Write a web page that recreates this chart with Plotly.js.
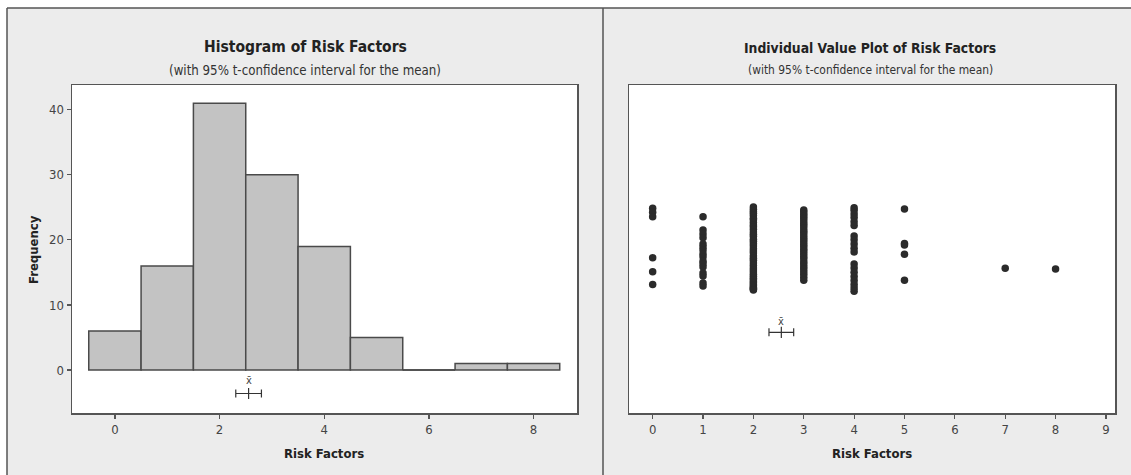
<!DOCTYPE html>
<html>
<head>
<meta charset="utf-8">
<script src="https://cdn.plot.ly/plotly-3.0.1.min.js"></script>
<style>html,body{margin:0;padding:0;background:#fff;}#chart{width:1131px;height:475px;}</style>
</head>
<body>
<div id="chart"></div>
<script>
// ---- data ----
const binCenters = [0, 1, 2, 3, 4, 5, 6, 7, 8];
const binCounts  = [6, 16, 41, 30, 19, 5, 0, 1, 1];
const xTicksLeft  = [0, 2, 4, 6, 8];
const yTicksLeft  = [0, 10, 20, 30, 40];
const xTicksRight = [0, 1, 2, 3, 4, 5, 6, 7, 8, 9];
// vertical jitter (arbitrary 0-100 scale) of individual values, per risk-factor level
const jit0 = [62.4, 61.2, 59.8, 47.3, 43.1, 39.2];
const jit1 = [59.8, 55.8, 54.6, 53.4, 51.5, 50.6, 49.7, 48.5, 47.6, 46.3, 45.4, 44.5, 42.7, 41.8, 39.6, 38.7];
const jit2 = [62.8, 62.1, 61.4, 60.9, 60.2, 59.4, 58.9, 58.1, 57.3, 56.8, 56.0, 55.2, 54.5, 53.9, 53.0, 52.4, 51.6, 50.9, 50.1, 49.4, 48.8, 47.9, 47.2, 46.6, 45.7, 45.0, 44.2, 43.6, 43.0, 42.3, 41.7, 41.1, 40.6, 40.0, 39.6, 39.1, 38.7, 38.3, 38.0, 37.7, 37.5];
const jit3 = [61.9, 61.3, 60.6, 59.9, 59.3, 58.5, 57.8, 57.2, 56.4, 55.6, 55.0, 54.3, 53.5, 52.8, 52.1, 51.4, 50.7, 49.9, 49.2, 48.5, 47.7, 47.0, 46.1, 45.4, 44.6, 43.9, 43.1, 42.3, 41.4, 40.5];
const jit4 = [62.6, 61.8, 60.7, 59.6, 58.3, 57.2, 54.0, 52.8, 51.5, 50.2, 49.1, 45.4, 44.2, 42.9, 41.6, 40.4, 39.2, 38.1, 37.1];
const jit5 = [62.2, 51.7, 51.2, 48.4, 40.5];
const jit7 = [44.1];
const jit8 = [43.9];
const jitterByLevel = {0: jit0, 1: jit1, 2: jit2, 3: jit3, 4: jit4, 5: jit5, 7: jit7, 8: jit8};

// ---- derived statistics ----
let n = 0, s = 0, s2 = 0;
binCenters.forEach((b, i) => { n += binCounts[i]; s += b * binCounts[i]; s2 += b * b * binCounts[i]; });
const mean = s / n;
const sd = Math.sqrt((s2 - n * mean * mean) / (n - 1));
const tcrit = 1.980;
const half = tcrit * sd / Math.sqrt(n);

// ---- styling / placement ----
const W = 1131, H = 475;
const FONT = '"DejaVu Sans Condensed", "Liberation Sans Narrow", "DejaVu Sans", sans-serif';
const dark = '#4a4a4a';
const ciYLeft = -3.6, ciYRight = 24.6;

const ivX = [], ivY = [];
Object.keys(jitterByLevel).forEach(k => {
  jitterByLevel[k].forEach(v => { ivX.push(Number(k)); ivY.push(v); });
});

const zeroX = [], zeroY = [];
binCenters.forEach((b, i) => { if (binCounts[i] === 0) { zeroX.push(b - 0.5, b + 0.5, null); zeroY.push(0, 0, null); } });

const traces = [
  {type: 'bar', x: binCenters, y: binCounts, width: 1, xaxis: 'x', yaxis: 'y',
   marker: {color: '#c3c3c3', line: {color: dark, width: 1.5}}, hoverinfo: 'skip'},
  {type: 'scatter', mode: 'lines', x: zeroX, y: zeroY, xaxis: 'x', yaxis: 'y',
   line: {color: dark, width: 1.5}, hoverinfo: 'skip'},
  {type: 'scatter', mode: 'markers', x: [mean], y: [ciYLeft], xaxis: 'x', yaxis: 'y',
   marker: {symbol: 'line-ns', size: 8, line: {color: '#333', width: 1.2}},
   error_x: {type: 'constant', value: half, color: '#333', thickness: 1.2, width: 4}, hoverinfo: 'skip'},
  {type: 'scatter', mode: 'markers', x: ivX, y: ivY, xaxis: 'x2', yaxis: 'y2',
   marker: {color: '#2b2b2b', size: 7.5}, hoverinfo: 'skip'},
  {type: 'scatter', mode: 'markers', x: [mean], y: [ciYRight], xaxis: 'x2', yaxis: 'y2',
   marker: {symbol: 'line-ns', size: 8, line: {color: '#333', width: 1.2}},
   error_x: {type: 'constant', value: half, color: '#333', thickness: 1.2, width: 4}, hoverinfo: 'skip'}
];

const yDom = [1 - 413 / H, 1 - 85 / H];
const axisCommon = {showline: true, mirror: true, linecolor: '#555', linewidth: 1.5, showgrid: false, zeroline: false,
  ticks: 'outside', ticklen: 4, tickcolor: '#555', tickwidth: 1.2,
  tickfont: {family: FONT, size: 13, color: '#444444'}, automargin: false, fixedrange: true};

const layout = {
  width: W, height: H,
  margin: {l: 0, r: 0, t: 0, b: 0, pad: 0},
  paper_bgcolor: '#ececec', plot_bgcolor: '#ffffff',
  showlegend: false,
  xaxis: Object.assign({}, axisCommon, {domain: [72 / W, 577 / W], range: [-0.82, 8.83], tickvals: xTicksLeft, anchor: 'y'}),
  yaxis: Object.assign({}, axisCommon, {domain: yDom, range: [-6.6, 43.8], tickvals: yTicksLeft, anchor: 'x'}),
  xaxis2: Object.assign({}, axisCommon, {domain: [629 / W, 1115 / W], range: [-0.47, 9.18], tickvals: xTicksRight, anchor: 'y2'}),
  yaxis2: Object.assign({}, axisCommon, {domain: yDom, range: [0, 100], ticks: '', showticklabels: false, anchor: 'x2'}),
  shapes: [
    {type: 'rect', xref: 'paper', yref: 'paper', x0: 0, x1: 1, y0: 1 - 8 / H, y1: 1.01, fillcolor: '#ffffff', line: {width: 0}, layer: 'below'},
    {type: 'rect', xref: 'paper', yref: 'paper', x0: -0.01, x1: 7 / W, y0: -0.01, y1: 1.01, fillcolor: '#ffffff', line: {width: 0}, layer: 'below'},
    {type: 'line', xref: 'paper', yref: 'paper', x0: 7 / W, x1: 1, y0: 1 - 8 / H, y1: 1 - 8 / H, line: {color: '#555', width: 1.5}},
    {type: 'line', xref: 'paper', yref: 'paper', x0: 7 / W, x1: 7 / W, y0: 0, y1: 1 - 8 / H, line: {color: '#555', width: 1.5}},
    {type: 'line', xref: 'paper', yref: 'paper', x0: 603 / W, x1: 603 / W, y0: 0, y1: 1 - 8 / H, line: {color: '#555', width: 1.5}}
  ],
  annotations: [
    {xref: 'paper', yref: 'paper', x: 305 / W, y: 1 - 47 / H, text: '<b>Histogram of Risk Factors</b>', showarrow: false,
     font: {family: FONT, size: 15.5, color: '#222'}, xanchor: 'center', yanchor: 'middle'},
    {xref: 'paper', yref: 'paper', x: 305 / W, y: 1 - 70 / H, text: '(with 95% t-confidence interval for the mean)', showarrow: false,
     font: {family: FONT, size: 13.2, color: '#333'}, xanchor: 'center', yanchor: 'middle'},
    {xref: 'paper', yref: 'paper', x: 870 / W, y: 1 - 48 / H, text: '<b>Individual Value Plot of Risk Factors</b>', showarrow: false,
     font: {family: FONT, size: 13.8, color: '#222'}, xanchor: 'center', yanchor: 'middle'},
    {xref: 'paper', yref: 'paper', x: 870 / W, y: 1 - 70 / H, text: '(with 95% t-confidence interval for the mean)', showarrow: false,
     font: {family: FONT, size: 11.9, color: '#333'}, xanchor: 'center', yanchor: 'middle'},
    {xref: 'paper', yref: 'paper', x: 324 / W, y: 1 - 453 / H, text: '<b>Risk Factors</b>', showarrow: false,
     font: {family: FONT, size: 13, color: '#222'}, xanchor: 'center', yanchor: 'middle'},
    {xref: 'paper', yref: 'paper', x: 872 / W, y: 1 - 453 / H, text: '<b>Risk Factors</b>', showarrow: false,
     font: {family: FONT, size: 13, color: '#222'}, xanchor: 'center', yanchor: 'middle'},
    {xref: 'paper', yref: 'paper', x: 33 / W, y: 1 - 250 / H, text: '<b>Frequency</b>', textangle: -90, showarrow: false,
     font: {family: FONT, size: 13, color: '#222'}, xanchor: 'center', yanchor: 'middle'},
    {xref: 'x', yref: 'y', x: mean, y: ciYLeft, yshift: 13, text: 'x\u0304', showarrow: false,
     font: {family: FONT, size: 11, color: '#444'}, xanchor: 'center', yanchor: 'middle'},
    {xref: 'x2', yref: 'y2', x: mean, y: ciYRight, yshift: 11, text: 'x\u0304', showarrow: false,
     font: {family: FONT, size: 11, color: '#444'}, xanchor: 'center', yanchor: 'middle'}
  ]
};

Plotly.newPlot('chart', traces, layout, {staticPlot: true, displayModeBar: false});
</script>
</body>
</html>
